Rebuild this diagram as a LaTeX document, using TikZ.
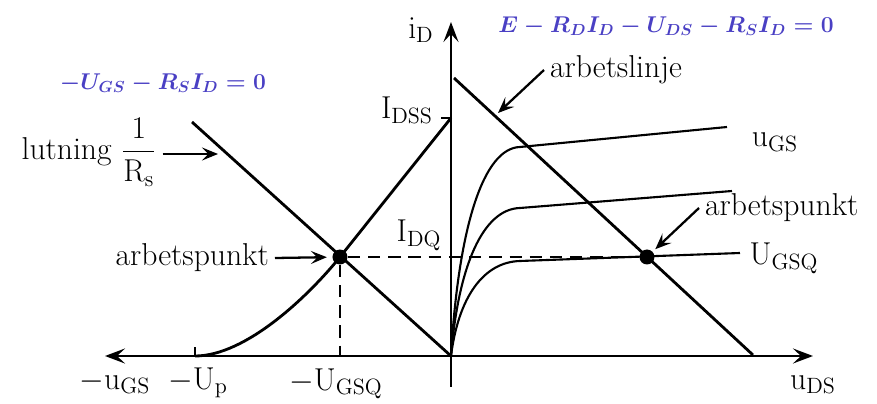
\RequirePackage{fix-cm}
\documentclass[tikz,border=0pt]{standalone}
\usepackage{amsmath}
\usepackage{tikz}
\usetikzlibrary{arrows.meta}
\usepackage{xcolor}
\definecolor{ekvblue}{HTML}{4A40C4}

\begin{document}
\begin{tikzpicture}[
  axisarw/.style={line width=1.4pt, -{Stealth[length=4mm, width=3mm, inset=1.6mm]}},
  linebold/.style={line width=1.6pt},
  curve/.style={line width=1.2pt},
  dashline/.style={line width=1.4pt, dash pattern=on 7pt off 4.5pt},
  arw/.style={line width=1.3pt, -{Stealth[length=3.2mm, width=2.6mm, inset=1.3mm]}},
  dotnode/.style={circle, fill=black, inner sep=0pt, minimum size=3mm},
  lbl/.style={font=\fontsize{18}{21}\selectfont},
  eqn/.style={font=\fontsize{13}{16}\selectfont\boldmath, text=ekvblue},
]
\useasboundingbox (-9.02,-0.96) rectangle (8.52,7.12);

% === Axes ===
\coordinate (O) at (0,0);
\coordinate (xneg) at (-6.92,0);
\coordinate (xpos) at (7.24,0);
\coordinate (ytop) at (0,6.68);
\coordinate (ybot) at (0,-0.62);
\draw[axisarw] (O) -- (xneg);
\draw[axisarw] (O) -- (xpos);
\draw[axisarw] (ybot) -- (ytop);

% === Ticks ===
\coordinate (up) at (-5.12,0);
\coordinate (idss) at (0,4.76);
\draw[linebold] (up) -- ++(0,0.17);
\draw[linebold] (idss) -- ++(-0.2,0);

% === Operating points ===
\node[dotnode] (QL) at (-2.22,1.98) {};
\node[dotnode] (QR) at (3.92,1.98) {};

% === Left: transfer curve and source line ===
\draw[linebold] (up) .. controls (-4.1,0) and (-2.85,1.2) .. (QL.center) -- (idss);
\coordinate (slstart) at (-5.18,4.68);
\draw[linebold] (slstart) -- (O);

% === Right: output curves and load line ===
\foreach \ky/\ex/\ey in {4.18/5.52/4.58, 2.96/5.62/3.30, 1.90/5.78/2.06}
  \draw[curve] (O) .. controls (0.15,0.62*\ky) and (0.65,\ky-0.02) .. (1.38,\ky) -- (\ex,\ey);
\coordinate (llstart) at (0.06,5.56);
\coordinate (llend) at (6.04,0.02);
\draw[linebold] (llstart) -- (llend);

% === Dashed guides ===
\draw[dashline] (QL) -- (QR);
\draw[dashline] (QL) -- (QL |- O);

% === Axis labels ===
\node[lbl] (iD) at (-0.6,6.52) {$\mathrm{i_D}$};
\node[lbl] (IDSS) at (-0.88,4.92) {$\mathrm{I_{DSS}}$};
\node[lbl] (IDQ) at (-0.64,2.42) {$\mathrm{I_{DQ}}$};
\node[lbl, anchor=base] (uGSneg) at (-6.72,-0.66) {$-\mathrm{u_{GS}}$};
\node[lbl, anchor=base] (Upneg) at (-5.06,-0.66) {$-\mathrm{U_p}$};
\node[lbl, anchor=base] (UGSQneg) at (-2.3,-0.68) {$-\mathrm{U_{GSQ}}$};
\node[lbl, anchor=base] (uDS) at (7.24,-0.66) {$\mathrm{u_{DS}}$};
\node[lbl] (uGS) at (6.48,4.28) {$\mathrm{u_{GS}}$};
\node[lbl] (UGSQ) at (6.66,1.96) {$\mathrm{U_{GSQ}}$};

% === Annotations with arrows ===
\node[lbl, anchor=east] (apL) at (-3.52,1.96) {arbetspunkt};
\draw[arw, shorten >=3pt] (apL.east) -- (QL);

\node[lbl] (slope) at (-7.24,4.08) {lutning $\dfrac{1}{\mathrm{R_s}}$};
\coordinate (slopeend) at (-4.66,4.04);
\draw[arw] (slope.east |- slopeend) -- (slopeend);

\node[lbl, anchor=west] (alinje) at (1.86,5.72) {arbetslinje};
\coordinate (alinjeend) at (0.94,4.86);
\draw[arw] (alinje.west) -- (alinjeend);

\node[lbl, anchor=west] (apR) at (4.96,2.96) {arbetspunkt};
\draw[arw, shorten >=2pt] (apR.west) -- (QR);

% === Equations ===
\node[eqn] (eqL) at (-5.76,5.46) {$-U_{GS}-R_SI_D=0$};
\node[eqn] (eqR) at (4.3,6.6) {$E-R_DI_D-U_{DS}-R_SI_D=0$};

\end{tikzpicture}
\end{document}
